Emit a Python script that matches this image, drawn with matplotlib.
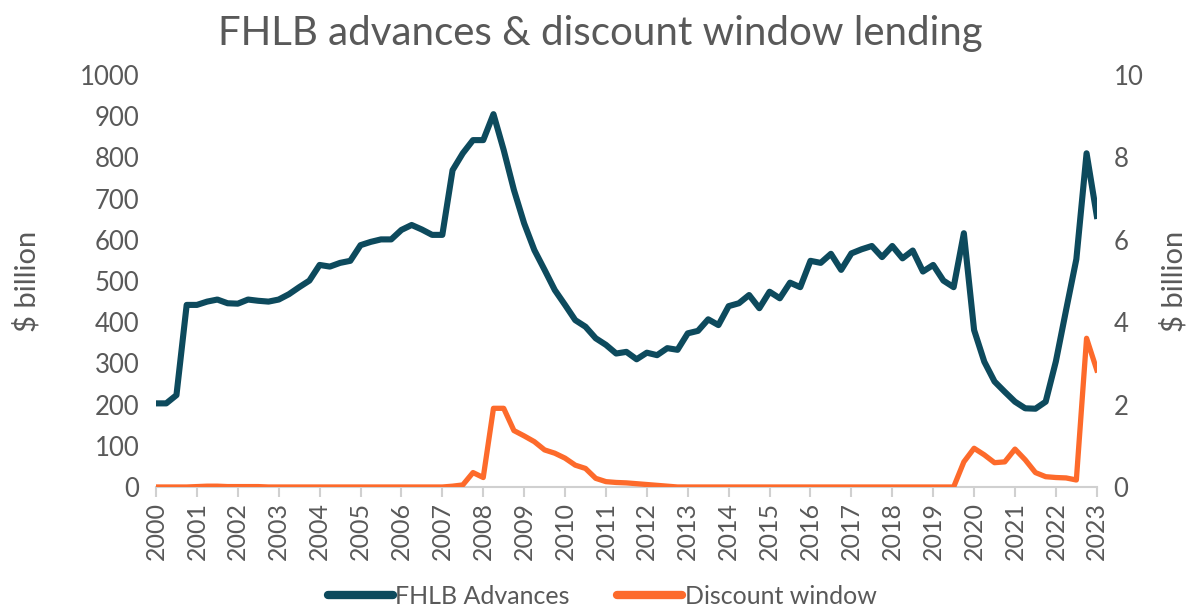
import numpy as np
from matplotlib import pyplot as plt

# quarterly, 2000Q1 .. 2023Q1
fhlb_advances = [
    203, 203, 223, 442, 442, 450, 455, 446, 445, 455, 452, 450,
    455, 468, 485, 501, 539, 535, 544, 549, 587, 595, 601, 601,
    624, 636, 625, 612, 612, 769, 810, 842, 842, 905, 818, 721,
    640, 575, 527, 478, 442, 405, 389, 361, 345, 324, 328, 310,
    326, 320, 337, 333, 373, 379, 407, 393, 439, 446, 466, 434,
    474, 458, 496, 485, 549, 544, 566, 527, 567, 577, 585, 558,
    585, 555, 574, 523, 539, 501, 485, 616, 381, 304, 256, 231,
    207, 191, 190, 207, 305, 430, 553, 810, 658,
]
discount_window = [
    0, 0, 0, 0, 0.01, 0.02, 0.02, 0.01, 0.01, 0.01, 0.01, 0,
    0, 0, 0, 0, 0, 0, 0, 0, 0, 0, 0, 0,
    0, 0, 0, 0, 0, 0.02, 0.05, 0.35, 0.23, 1.91, 1.91, 1.37,
    1.24, 1.10, 0.90, 0.82, 0.70, 0.53, 0.45, 0.21, 0.13, 0.11, 0.10, 0.08,
    0.06, 0.04, 0.02, 0, 0, 0, 0, 0, 0, 0, 0, 0,
    0, 0, 0, 0, 0, 0, 0, 0, 0, 0, 0, 0,
    0, 0, 0, 0, 0, 0, 0, 0.61, 0.94, 0.78, 0.59, 0.61,
    0.92, 0.66, 0.35, 0.25, 0.23, 0.22, 0.17, 3.61, 2.84,
]
years = list(range(2000, 2024))
quarters = 2000 + np.arange(len(fhlb_advances)) / 4

TEAL = "#0d4a5d"
ORANGE = "#fd6a2b"
GREY = "#595959"

plt.rcParams["font.family"] = ["Lato", "DejaVu Sans"]

fig = plt.figure(figsize=(12, 6.07), dpi=100)
ax = fig.add_axes([0.13, 0.1977, 0.784, 0.6787])
ax2 = ax.twinx()

l1, = ax.plot(quarters, fhlb_advances, color=TEAL, lw=4.4, solid_joinstyle="round", label="FHLB Advances", zorder=3)
l2, = ax2.plot(quarters, discount_window, color=ORANGE, lw=3.8, solid_joinstyle="round", label="Discount window", zorder=3)

ax.set_xlim(2000, 2023)
ax.set_ylim(0, 1000)
ax2.set_ylim(0, 10)
ax.set_yticks(range(0, 1001, 100))
ax2.set_yticks(range(0, 11, 2))
ax.set_xticks(years)
ax.set_xticklabels([str(y) for y in years], rotation=90)

for a in (ax, ax2):
    for s in ("top", "left", "right"):
        a.spines[s].set_visible(False)
    a.spines["bottom"].set_color("#d0d0d0")
    a.spines["bottom"].set_linewidth(1.5)
    a.tick_params(axis="y", length=0, labelsize=18.5, colors=GREY, pad=12)
ax.tick_params(axis="x", length=7, width=1.5, color="#d0d0d0", labelsize=18, labelcolor=GREY, pad=4)
ax2.spines["bottom"].set_visible(False)

ax.set_ylabel("$ billion", fontsize=21, color=GREY, labelpad=28)
ax2.set_ylabel("$ billion", fontsize=21, color=GREY, labelpad=12, rotation=90)

fig.suptitle("FHLB advances & discount window lending", fontsize=29, color=GREY, y=0.975)

fig.legend(handles=[l1, l2], loc="center", bbox_to_anchor=(0.502, 0.018), ncol=2,
           frameon=False, fontsize=18, labelcolor=GREY, handlelength=2.6,
           handletextpad=0.1, columnspacing=1.9)
for h in fig.legends[0].legend_handles:
    h.set_linewidth(6)
    h.set_solid_capstyle("round")

fig.savefig("out.png", dpi=100)
